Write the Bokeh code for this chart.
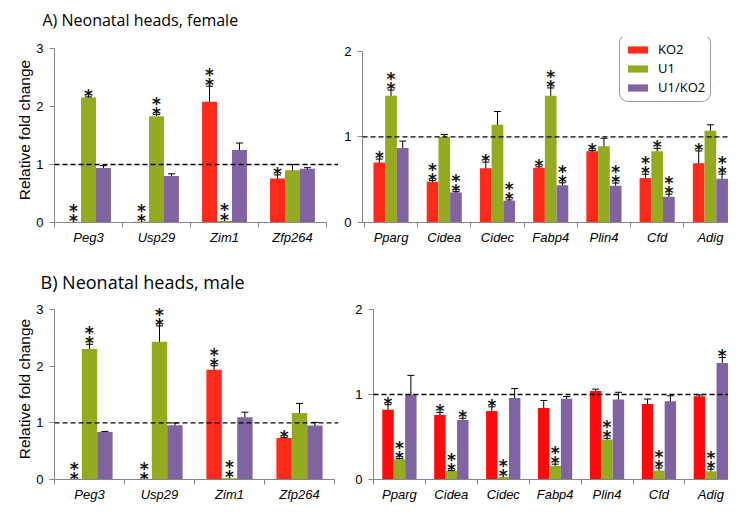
from bokeh.plotting import figure
from bokeh.models import (ColumnDataSource, Whisker, TeeHead, Span, FixedTicker,
                          Legend, LegendItem, Range1d)
from bokeh.layouts import row, column
from bokeh.embed import file_html
from bokeh.resources import INLINE
from bokeh.core.properties import value

# ---------------- data ----------------
series = ["KO2", "U1", "U1/KO2"]
genes_imprinted = ["Peg3", "Usp29", "Zim1", "Zfp264"]
genes_adipo = ["Pparg", "Cidea", "Cidec", "Fabp4", "Plin4", "Cfd", "Adig"]

# A) female, imprinted genes
a_imp_ko2 = [0.005, 0.015, 2.08, 0.76]
a_imp_ko2_err = [0.0, 0.0, 0.27, 0.06]
a_imp_u1 = [2.155, 1.83, 0.025, 0.90]
a_imp_u1_err = [0.01, 0.03, 0.0, 0.10]
a_imp_u1ko2 = [0.94, 0.80, 1.25, 0.925]
a_imp_u1ko2_err = [0.04, 0.04, 0.12, 0.02]
a_imp_ko2_sig = ["**", "**", "**", "*"]
a_imp_u1_sig = ["*", "**", "**", ""]
a_imp_u1ko2_sig = ["", "", "", ""]

# A) female, adipogenic genes
a_adi_ko2 = [0.70, 0.475, 0.634, 0.64, 0.83, 0.52, 0.69]
a_adi_ko2_err = [0.04, 0.015, 0.07, 0.01, 0.01, 0.043, 0.145]
a_adi_u1 = [1.48, 1.0, 1.14, 1.48, 0.89, 0.83, 1.07]
a_adi_u1_err = [0.065, 0.027, 0.155, 0.09, 0.093, 0.035, 0.07]
a_adi_u1ko2 = [0.87, 0.35, 0.253, 0.436, 0.43, 0.30, 0.51]
a_adi_u1ko2_err = [0.08, 0.01, 0.01, 0.027, 0.03, 0.03, 0.055]
a_adi_ko2_sig = ["*", "**", "*", "*", "*", "**", "*"]
a_adi_u1_sig = ["**", "", "", "**", "", "*", ""]
a_adi_u1ko2_sig = ["", "**", "**", "**", "**", "**", "**"]

# B) male, imprinted genes
b_imp_ko2 = [0.0, 0.0, 1.94, 0.735]
b_imp_ko2_err = [0.0, 0.0, 0.07, 0.005]
b_imp_u1 = [2.305, 2.435, 0.02, 1.175]
b_imp_u1_err = [0.085, 0.28, 0.0, 0.17]
b_imp_u1ko2 = [0.84, 0.96, 1.10, 0.955]
b_imp_u1ko2_err = [0.01, 0.04, 0.09, 0.055]
b_imp_ko2_sig = ["**", "**", "**", "*"]
b_imp_u1_sig = ["**", "**", "**", ""]
b_imp_u1ko2_sig = ["", "", "", ""]

# B) male, adipogenic genes
b_adi_ko2 = [0.82, 0.76, 0.805, 0.84, 1.04, 0.887, 0.98]
b_adi_ko2_err = [0.06, 0.03, 0.05, 0.09, 0.023, 0.06, 0.015]
b_adi_u1 = [0.237, 0.10, 0.03, 0.16, 0.47, 0.105, 0.098]
b_adi_u1_err = [0.01, 0.005, 0.0, 0.02, 0.015, 0.03, 0.023]
b_adi_u1ko2 = [1.0, 0.70, 0.96, 0.95, 0.94, 0.92, 1.37]
b_adi_u1ko2_err = [0.225, 0.02, 0.11, 0.026, 0.086, 0.065, 0.066]
b_adi_ko2_sig = ["*", "*", "*", "", "", "", ""]
b_adi_u1_sig = ["**", "**", "**", "**", "**", "**", "**"]
b_adi_u1ko2_sig = ["", "*", "", "", "", "", "*"]

# ---------------- styles ----------------
RED = "#FF2A1A"
RED2 = "#FF0A0A"
GREEN = "#95AB1F"
PURPLE = "#8064A2"
AXIS = "#868686"
OFFSETS = [-0.22, 0.0, 0.22]
BAR_W = 0.22


def panel(genes, vals, errs, sigs, x_range, y_end, y_top, frame_w, frame_h,
          borders, colors, title=None, title_size="16px", title_offset=0,
          title_standoff=10, ylabel=None, x_bounds=None, legend_loc=None):
    n = len(genes)
    p = figure(frame_width=frame_w, frame_height=frame_h,
               x_range=Range1d(*x_range), y_range=Range1d(0, y_end),
               output_backend="svg", toolbar_location=None,
               min_border_left=borders[0], min_border_right=borders[1],
               min_border_top=borders[2], min_border_bottom=borders[3],
               title=title)
    p.outline_line_color = None
    p.xgrid.visible = False
    p.ygrid.visible = False
    p.background_fill_color = "white"
    p.border_fill_color = "white"

    if title is not None:
        p.title.text_font = "Open Sans"
        p.title.text_font_size = title_size
        p.title.text_font_style = "normal"
        p.title.text_color = "black"
        p.title.align = "left"
        p.title.offset = title_offset
        p.title.standoff = title_standoff

    # x axis: labels at category centres, ticks at category boundaries
    xa = p.xaxis[0]
    xa.axis_label = None
    centres = [i + 0.5 for i in range(n)]
    xa.ticker = FixedTicker(ticks=centres, minor_ticks=list(range(n + 1)))
    xa.major_label_overrides = {c: g for c, g in zip(centres, genes)}
    xa.major_tick_out = 0
    xa.major_tick_in = 0
    xa.minor_tick_out = 5
    xa.minor_tick_in = 0
    xa.axis_line_color = AXIS
    xa.minor_tick_line_color = AXIS
    xa.major_tick_line_color = None
    xa.major_label_text_font = "Liberation Sans"
    xa.major_label_text_font_style = "italic"
    xa.major_label_text_font_size = "13px"
    xa.major_label_text_color = "black"
    xa.major_label_standoff = 2
    if x_bounds is not None:
        xa.bounds = x_bounds

    ya = p.yaxis[0]
    ya.ticker = FixedTicker(ticks=list(range(int(y_top) + 1)))
    ya.bounds = (0, y_top)
    ya.axis_line_color = AXIS
    ya.major_tick_line_color = AXIS
    ya.minor_tick_line_color = None
    ya.major_tick_out = 5
    ya.major_tick_in = 0
    ya.major_label_text_font = "Liberation Sans"
    ya.major_label_text_font_size = "13px"
    ya.major_label_text_color = "black"
    ya.major_label_standoff = 6
    if ylabel:
        ya.axis_label = ylabel
        ya.axis_label_text_font = "Liberation Sans"
        ya.axis_label_text_font_style = "normal"
        ya.axis_label_text_font_size = "15.5px"
        ya.axis_label_text_color = "black"
        ya.axis_label_standoff = 0
    else:
        ya.axis_label = None

    p.add_layout(Span(location=1, dimension="width", line_color="black",
                      line_width=1.3, line_dash="5 3"))

    renderers = []
    sx, sy, so, st = [], [], [], []
    for j in range(3):
        xs = [c + OFFSETS[j] for c in centres]
        src = ColumnDataSource(dict(x=xs, top=vals[j]))
        r = p.vbar(x="x", top="top", bottom=0, width=BAR_W, source=src,
                   fill_color=colors[j], line_color=None)
        renderers.append(r)
        ex = [x for x, e in zip(xs, errs[j]) if e > 0]
        ev = [v for v, e in zip(vals[j], errs[j]) if e > 0]
        ee = [e for e in errs[j] if e > 0]
        if ex:
            wsrc = ColumnDataSource(dict(base=ex,
                                         upper=[v + e for v, e in zip(ev, ee)],
                                         lower=[v - e for v, e in zip(ev, ee)]))
            p.add_layout(Whisker(source=wsrc, base="base", upper="upper",
                                 lower="lower", line_color="black", line_width=1,
                                 upper_head=TeeHead(size=7, line_color="black", line_width=1),
                                 lower_head=TeeHead(size=7, line_color="black", line_width=1)))
        for x, v, e, s in zip(xs, vals[j], errs[j], sigs[j]):
            for k in range(len(s)):
                sx.append(x)
                sy.append(v + e)
                so.append(-1 - 10 * k)
                st.append("*")
    if sx:
        p.text(x="x", y="y", text="t", y_offset="yo",
               source=ColumnDataSource(dict(x=sx, y=sy, yo=so, t=st)),
               text_font=value("DejaVu Sans"), text_font_size="17px",
               text_font_style="bold",
               text_align="center", text_baseline="middle", text_color="#111111")

    if legend_loc is not None:
        leg = Legend(items=[LegendItem(label=s, renderers=[r])
                            for s, r in zip(series, renderers)],
                     location=legend_loc)
        leg.label_text_font = "Open Sans"
        leg.label_text_font_size = "13px"
        leg.label_text_color = "black"
        leg.glyph_width = 25
        leg.glyph_height = 9
        leg.label_height = 14
        leg.label_standoff = 8
        leg.spacing = 1
        leg.padding = 5
        leg.margin = 0
        leg.border_line_color = "#3a3a3a"
        leg.border_line_width = 1
        leg.background_fill_color = "white"
        leg.background_fill_alpha = 1.0
        try:
            leg.border_radius = 9
        except Exception:
            pass
        p.add_layout(leg)
    return p


pa1 = panel(genes_imprinted,
            [a_imp_ko2, a_imp_u1, a_imp_u1ko2],
            [a_imp_ko2_err, a_imp_u1_err, a_imp_u1ko2_err],
            [a_imp_ko2_sig, a_imp_u1_sig, a_imp_u1ko2_sig],
            x_range=(0, 284 / 68), y_end=185 / 58.0, y_top=3,
            frame_w=284, frame_h=185, borders=(54, 0, 35, 32),
            colors=[RED, GREEN, PURPLE],
            title="A) Neonatal heads, female", title_size="16px",
            title_offset=-12, title_standoff=13,
            ylabel="Relative fold change", x_bounds=(0, 4))

pa2 = panel(genes_adipo,
            [a_adi_ko2, a_adi_u1, a_adi_u1ko2],
            [a_adi_ko2_err, a_adi_u1_err, a_adi_u1ko2_err],
            [a_adi_ko2_sig, a_adi_u1_sig, a_adi_u1ko2_sig],
            x_range=(-0.036, 6.84), y_end=185 / 85.7, y_top=2,
            frame_w=366, frame_h=185, borders=(24, 0, 35, 32),
            colors=[RED, GREEN, PURPLE], legend_loc=(257, 120))

pb1 = panel(genes_imprinted,
            [b_imp_ko2, b_imp_u1, b_imp_u1ko2],
            [b_imp_ko2_err, b_imp_u1_err, b_imp_u1ko2_err],
            [b_imp_ko2_sig, b_imp_u1_sig, b_imp_u1ko2_sig],
            x_range=(0, 284 / 70), y_end=3.2, y_top=3,
            frame_w=284, frame_h=181, borders=(54, 5, 44, 25),
            colors=[RED, GREEN, PURPLE],
            title="B) Neonatal heads, male", title_size="18px",
            title_offset=-14, title_standoff=9,
            ylabel="Relative fold change", x_bounds=(0, 4))

pb2 = panel(genes_adipo,
            [b_adi_ko2, b_adi_u1, b_adi_u1ko2],
            [b_adi_ko2_err, b_adi_u1_err, b_adi_u1ko2_err],
            [b_adi_ko2_sig, b_adi_u1_sig, b_adi_u1ko2_sig],
            x_range=(0, 6.84), y_end=181 / 85.0, y_top=2,
            frame_w=355, frame_h=181, borders=(30, 0, 44, 25),
            colors=[RED2, GREEN, PURPLE])

layout = column(row(pa1, pa2), row(pb1, pb2))
open("out.html", "w").write(file_html(layout, INLINE))
